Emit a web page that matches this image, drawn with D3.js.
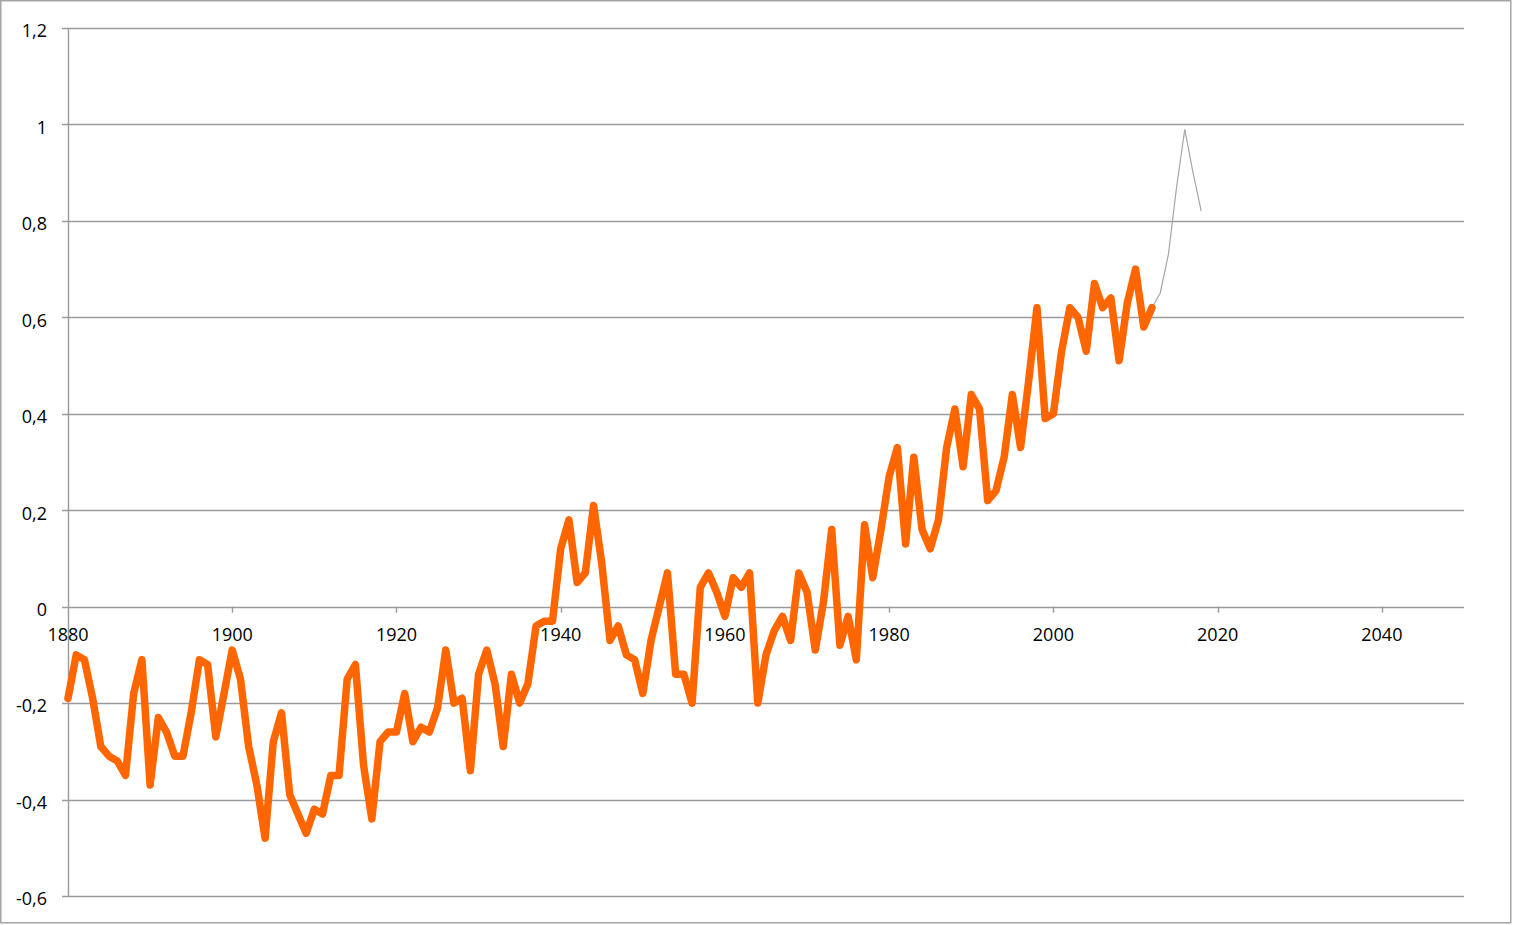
<!DOCTYPE html>
<html>
<head>
<meta charset="utf-8">
<script src="https://cdn.jsdelivr.net/npm/d3@7"></script>
<style>
  body { margin: 0; background: #fff; }
  text { font-family: "Open Sans", "Liberation Sans", sans-serif; font-size: 18px; fill: #000; }
</style>
</head>
<body>
<div id="chart"></div>
<script>
// temperature anomaly, yearly values
const startYear = 1880;
const anomaly = [
  -0.19, -0.10, -0.11, -0.19, -0.29, -0.31, -0.32, -0.35, -0.18, -0.11,
  -0.37, -0.23, -0.26, -0.31, -0.31, -0.22, -0.11, -0.12, -0.27, -0.18,
  -0.09, -0.15, -0.29, -0.37, -0.48, -0.28, -0.22, -0.39, -0.43, -0.47,
  -0.42, -0.43, -0.35, -0.35, -0.15, -0.12, -0.33, -0.44, -0.28, -0.26,
  -0.26, -0.18, -0.28, -0.25, -0.26, -0.21, -0.09, -0.20, -0.19, -0.34,
  -0.14, -0.09, -0.16, -0.29, -0.14, -0.20, -0.16, -0.04, -0.03, -0.03,
  0.12, 0.18, 0.05, 0.07, 0.21, 0.09, -0.07, -0.04, -0.10, -0.11,
  -0.18, -0.07, 0.00, 0.07, -0.14, -0.14, -0.20, 0.04, 0.07, 0.03,
  -0.02, 0.06, 0.04, 0.07, -0.20, -0.10, -0.05, -0.02, -0.07, 0.07,
  0.03, -0.09, 0.01, 0.16, -0.08, -0.02, -0.11, 0.17, 0.06, 0.16,
  0.27, 0.33, 0.13, 0.31, 0.16, 0.12, 0.18, 0.33, 0.41, 0.29,
  0.44, 0.41, 0.22, 0.24, 0.31, 0.44, 0.33, 0.47, 0.62, 0.39,
  0.40, 0.53, 0.62, 0.60, 0.53, 0.67, 0.62, 0.64, 0.51, 0.63,
  0.70, 0.58, 0.62
];
// thin grey continuation
const recentYears = [2012, 2013, 2014, 2015, 2016, 2017, 2018];
const recentValues = [0.62, 0.65, 0.73, 0.87, 0.99, 0.90, 0.82];

const xTicks = [1880, 1900, 1920, 1940, 1960, 1980, 2000, 2020, 2040];
const yTicks = [1.2, 1, 0.8, 0.6, 0.4, 0.2, 0, -0.2, -0.4, -0.6];
const yTickLabels = ["1,2", "1", "0,8", "0,6", "0,4", "0,2", "0", "-0,2", "-0,4", "-0,6"];

const W = 1513, H = 925;
const gridColor = "#9a9a9a";

const svg = d3.select("#chart").append("svg")
    .attr("width", W)
    .attr("height", H);

// outer frame
svg.append("rect")
    .attr("x", 0.75).attr("y", 0.75)
    .attr("width", 1510).attr("height", 922)
    .attr("fill", "none")
    .attr("stroke", "#a5a5a5")
    .attr("stroke-width", 1.5);

const x = d3.scaleLinear().domain([1880, 2050]).range([68, 1464]);
const y = d3.scaleLinear().domain([-0.6, 1.2]).range([896, 28]);

// gridlines + y ticks
svg.append("g")
    .selectAll("line")
    .data(yTicks)
    .join("line")
    .attr("x1", 62).attr("x2", x(2050))
    .attr("y1", d => Math.round(y(d)) + 0.5)
    .attr("y2", d => Math.round(y(d)) + 0.5)
    .attr("stroke", gridColor)
    .attr("stroke-width", 1.4);

// y axis line
svg.append("line")
    .attr("x1", x(1880) + 0.5).attr("x2", x(1880) + 0.5)
    .attr("y1", y(1.2)).attr("y2", y(-0.6))
    .attr("stroke", gridColor)
    .attr("stroke-width", 1.4);

// x ticks hang from the zero line
svg.append("g")
    .selectAll("line")
    .data(xTicks.slice(1))
    .join("line")
    .attr("x1", d => Math.round(x(d)) + 0.5)
    .attr("x2", d => Math.round(x(d)) + 0.5)
    .attr("y1", y(0)).attr("y2", y(0) + 6)
    .attr("stroke", gridColor)
    .attr("stroke-width", 1.4);

svg.append("g")
    .selectAll("text")
    .data(yTicks)
    .join("text")
    .attr("x", 47)
    .attr("y", d => y(d) + 3)
    .attr("dy", "0.35em")
    .attr("text-anchor", "end")
    .text((d, i) => yTickLabels[i]);

svg.append("g")
    .selectAll("text")
    .data(xTicks)
    .join("text")
    .attr("x", d => x(d))
    .attr("y", y(0) + 28)
    .attr("dy", "0.35em")
    .attr("text-anchor", "middle")
    .text(d => d);

const line = d3.line()
    .x(d => x(d[0]))
    .y(d => y(d[1]));

svg.append("path")
    .datum(recentYears.map((yr, i) => [yr, recentValues[i]]))
    .attr("d", line)
    .attr("fill", "none")
    .attr("stroke", "#a6a6a6")
    .attr("stroke-width", 1.2);

svg.append("path")
    .datum(anomaly.map((v, i) => [startYear + i, v]))
    .attr("d", line)
    .attr("fill", "none")
    .attr("stroke", "#ff6600")
    .attr("stroke-width", 7.5)
    .attr("stroke-linejoin", "round")
    .attr("stroke-linecap", "round");
</script>
</body>
</html>
